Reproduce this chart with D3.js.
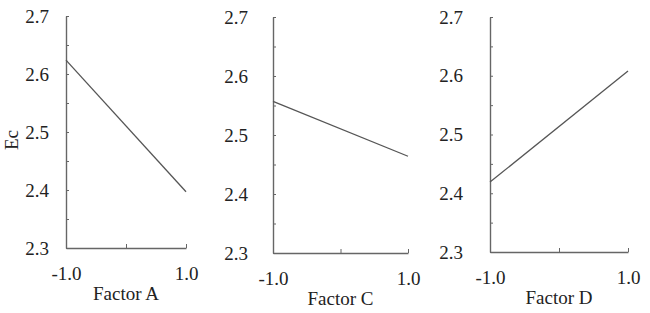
<!DOCTYPE html>
<html>
<head>
<meta charset="utf-8">
<script src="https://cdn.jsdelivr.net/npm/d3@7"></script>
<style>
	body { margin: 0; background: #fff; }
	svg text { font-family: 'Liberation Serif', 'Times New Roman', serif; fill: #222; }
</style>
</head>
<body>
<div id="chart"></div>
<script>
// data
var factors = ['Factor A', 'Factor C', 'Factor D'];
var levels = [-1, 1];
var ecA = [2.624, 2.397];
var ecC = [2.557, 2.464];
var ecD = [2.419, 2.608];
var yTicks = [2.3, 2.4, 2.5, 2.6, 2.7];
var yMinor = [2.3, 2.35, 2.4, 2.45, 2.5, 2.55, 2.6, 2.65, 2.7];
var xTickLabels = ['-1.0', '1.0'];
var yLabel = 'Ec';

var series = [ecA, ecC, ecD];

var serif = "'Liberation Serif', 'Times New Roman', serif";

// panel boxes (pixels)
var panels = [
	{ left: 66, right: 186, top: 16, bottom: 248, pad: 17 },
	{ left: 273, right: 408, top: 17, bottom: 253, pad: 25 },
	{ left: 490, right: 628, top: 17, bottom: 252, pad: 27 }
];

var svg = d3.select('#chart').append('svg').attr('width', 650).attr('height', 313);

var axisColor = '#666';
var lineColor = '#555';

panels.forEach(function (p, i) {
	var x = d3.scaleLinear().domain([-1, 1]).range([p.left, p.right]);
	var y = d3.scaleLinear().domain([2.3, 2.7]).range([p.bottom, p.top]);
	var g = svg.append('g');

	// y axis: labels
	var ya = g.append('g')
		.attr('transform', 'translate(' + p.left + ',0)')
		.call(d3.axisLeft(y).tickValues(yTicks).tickFormat(d3.format('.1f')).tickSize(0).tickPadding(p.pad))
		.attr('font-family', serif)
		.attr('font-size', 19);
	ya.select('.domain').attr('stroke', axisColor).attr('stroke-width', 1.4);

	// y axis: small inward ticks
	var ym = g.append('g')
		.attr('transform', 'translate(' + p.left + ',0)')
		.call(d3.axisLeft(y).tickValues(yMinor).tickFormat('').tickSizeInner(-3).tickSizeOuter(0));
	ym.select('.domain').remove();
	ym.selectAll('line').attr('stroke', axisColor).attr('stroke-width', 1);

	// x axis
	var xa = g.append('g')
		.attr('transform', 'translate(0,' + p.bottom + ')')
		.call(d3.axisBottom(x).tickValues([-1, 0, 1]).tickSizeInner(-4).tickSizeOuter(0).tickPadding(19)
			.tickFormat(function (d) { return d === 0 ? '' : xTickLabels[d < 0 ? 0 : 1]; }))
		.attr('font-family', serif)
		.attr('font-size', 19);
	xa.select('.domain').attr('stroke', axisColor).attr('stroke-width', 1.4);
	xa.selectAll('line').attr('stroke', axisColor).attr('stroke-width', 1);

	// axis title
	g.append('text')
		.attr('x', (p.left + p.right) / 2)
		.attr('y', p.bottom + 52)
		.attr('text-anchor', 'middle')
		.attr('font-size', '19px')
		.text(factors[i]);

	// main effect line
	var pts = levels.map(function (l, j) { return [l, series[i][j]]; });
	g.append('path')
		.datum(pts)
		.attr('fill', 'none')
		.attr('stroke', lineColor)
		.attr('stroke-width', 1.3)
		.attr('d', d3.line().x(function (d) { return x(d[0]); }).y(function (d) { return y(d[1]); }));
});

svg.append('text')
	.attr('transform', 'translate(18,140) rotate(-90)')
	.attr('text-anchor', 'middle')
	.attr('font-size', '19px')
	.text(yLabel);
</script>
</body>
</html>
